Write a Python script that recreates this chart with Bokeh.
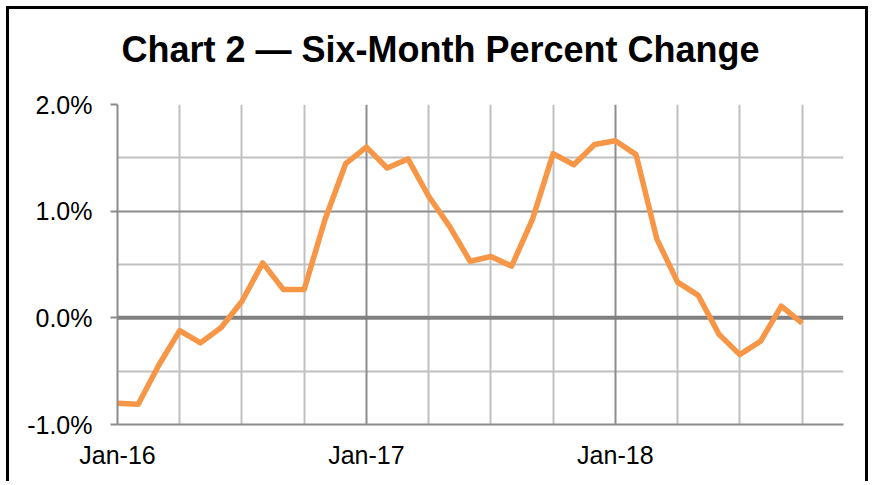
from bokeh.plotting import figure
from bokeh.models import FixedTicker, Grid, Span, Title, Range1d
from bokeh.embed import file_html
from bokeh.resources import INLINE

title_text = "Chart 2 \u2014 Six-Month Percent Change"
# monthly index: 0 = Jan-16 ... 33 = Oct-18
months = list(range(34))
values = [-0.80, -0.81, -0.44, -0.12, -0.235, -0.09, 0.155, 0.515, 0.265, 0.265, 0.92, 1.445,
          1.60, 1.405, 1.49, 1.14, 0.86, 0.53, 0.575, 0.485, 0.92, 1.54, 1.435, 1.625,
          1.66, 1.53, 0.74, 0.335, 0.21, -0.155, -0.345, -0.22, 0.11, -0.05]
x_tick_pos = [0, 12, 24]
x_tick_labels = ["Jan-16", "Jan-17", "Jan-18"]
x_grid_minor = [3, 6, 9, 15, 18, 21, 27, 30, 33]
y_tick_pos = [-1, 0, 1, 2]
y_tick_labels = ["-1.0%", "0.0%", "1.0%", "2.0%"]
y_grid_minor = [-0.5, 0.5, 1.5]
y_grid_major = [1, 2]

FONT = "Liberation Sans"
DARK = "#8C8C8C"
LIGHT = "#C0C0C0"

p = figure(width=862, height=475, x_range=Range1d(0, 35), y_range=Range1d(-1, 2),
           output_backend="svg", toolbar_location=None,
           min_border_left=108, min_border_right=28, min_border_top=95, min_border_bottom=60)
p.outline_line_color = None
p.background_fill_color = "white"
p.border_fill_color = "white"
p.styles = {"border-top": "3px solid black", "border-left": "3px solid black",
            "border-right": "3px solid black", "margin-left": "6px", "margin-top": "6px"}

# spacer between the title and the plot area (nearest to the frame)
p.add_layout(Title(text=" ", text_font_size="2px", standoff=29), "above")
p.title = Title(text=title_text, text_font=FONT, text_font_style="bold", text_font_size="36px",
                text_color="black", align="left", offset=4, vertical_align="top", standoff=0)

# grids
p.xgrid.ticker = FixedTicker(ticks=x_grid_minor)
p.xgrid.grid_line_color = LIGHT
p.xgrid.grid_line_width = 2
p.ygrid.ticker = FixedTicker(ticks=y_grid_minor)
p.ygrid.grid_line_color = LIGHT
p.ygrid.grid_line_width = 2
p.add_layout(Grid(dimension=0, ticker=FixedTicker(ticks=x_tick_pos), grid_line_color=DARK, grid_line_width=2))
p.add_layout(Grid(dimension=1, ticker=FixedTicker(ticks=y_grid_major), grid_line_color=DARK, grid_line_width=2))
p.add_layout(Span(location=0, dimension="width", line_color="#808080", line_width=4, level="underlay"))

# axes
ya = p.yaxis[0]
ya.ticker = FixedTicker(ticks=y_tick_pos)
ya.major_label_overrides = {k: v for k, v in zip(y_tick_pos, y_tick_labels)}
ya.major_label_text_font = FONT
ya.major_label_text_font_size = "25px"
ya.major_label_text_color = "black"
ya.major_tick_out = 7
ya.major_tick_in = 0
ya.major_tick_line_color = DARK
ya.major_tick_line_width = 2
ya.minor_tick_line_color = None
ya.axis_line_color = DARK
ya.axis_line_width = 2
ya.major_label_standoff = 18

xa = p.xaxis[0]
xa.ticker = FixedTicker(ticks=x_tick_pos)
xa.major_label_overrides = {k: v for k, v in zip(x_tick_pos, x_tick_labels)}
xa.major_label_text_font = FONT
xa.major_label_text_font_size = "25px"
xa.major_label_text_color = "black"
xa.major_tick_line_color = None
xa.minor_tick_line_color = None
xa.axis_line_color = DARK
xa.axis_line_width = 2
xa.major_label_standoff = 10

p.line(months, values, line_color="#F79646", line_width=5.5, line_join="round")

open("out.html", "w").write(file_html(p, INLINE))
